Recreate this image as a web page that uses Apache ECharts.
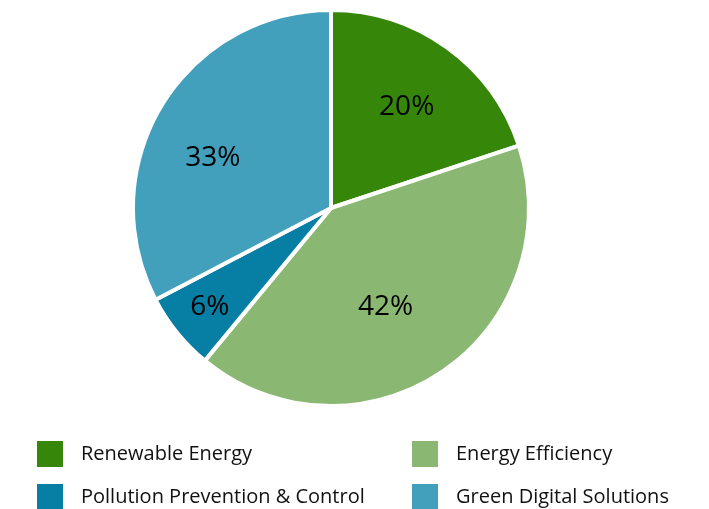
<!DOCTYPE html>
<html><head><meta charset="utf-8">
<script src="https://cdn.jsdelivr.net/npm/echarts@6/dist/echarts.min.js"></script>
<style>html,body{margin:0;padding:0;background:#fff}#c{width:709px;height:509px}</style>
</head><body><div id="c"></div>
<script>
var categories = ['Renewable Energy', 'Energy Efficiency', 'Pollution Prevention & Control', 'Green Digital Solutions'];
var shares = [20.1, 41.5, 6.4, 33.0];
var colors = ['#368709', '#8ab872', '#077ea3', '#42a0bc'];
var labelOffsets = [[16, -18], [-3, 15], [-42, 35], [-31, 3]];
var legendSpots = [[37, 441], [412, 441], [37, 484], [412, 484]];

var chart = echarts.init(document.getElementById('c'));
var font = '"Open Sans", sans-serif';
chart.setOption({
  animation: false,
  color: colors,
  legend: categories.map(function (n, i) {
    return {
      left: legendSpots[i][0], top: legendSpots[i][1], padding: 0,
      itemWidth: 26, itemHeight: 26, icon: 'rect', data: [n],
      itemStyle: {borderWidth: 0},
      textStyle: {fontFamily: font, fontSize: 20, color: '#111', padding: [0, 0, 0, 13]}
    };
  }),
  series: [{
    type: 'pie',
    center: [331, 208],
    radius: 198,
    startAngle: 90,
    clockwise: true,
    itemStyle: {borderColor: '#fff', borderWidth: 4},
    label: {
      position: 'inside', fontFamily: font, fontSize: 28, color: '#000',
      formatter: function (p) { return Math.round(p.value) + '%'; }
    },
    labelLine: {show: false},
    data: categories.map(function (n, i) {
      return {name: n, value: shares[i], label: {offset: labelOffsets[i]}};
    })
  }]
});
</script></body></html>
